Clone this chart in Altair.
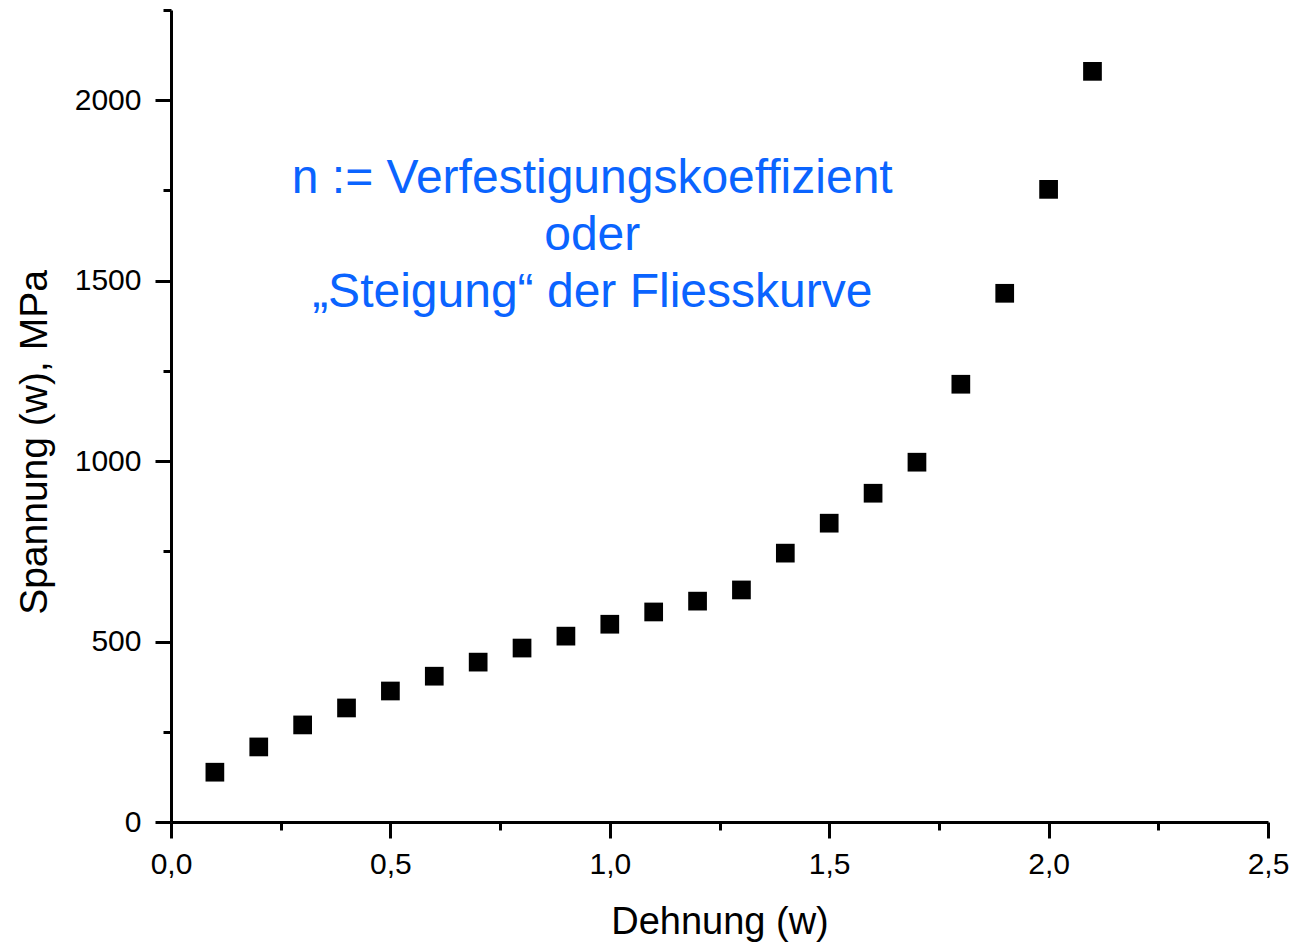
import altair as alt
import pandas as pd

# Fliesskurve: Dehnung vs. Spannung
dehnung = [0.1, 0.2, 0.3, 0.4, 0.5, 0.6, 0.7, 0.8, 0.9, 1.0, 1.1,
           1.2, 1.3, 1.4, 1.5, 1.6, 1.7, 1.8, 1.9, 2.0, 2.1]
spannung = [138, 208, 269, 316, 363, 404, 443, 482, 515, 548, 582,
            612, 643, 745, 828, 911, 997, 1213, 1465, 1753, 2080]

x_major = [0.0, 0.5, 1.0, 1.5, 2.0, 2.5]
x_minor = [0.25, 0.75, 1.25, 1.75, 2.25]
y_major = [0, 500, 1000, 1500, 2000]
y_minor = [250, 750, 1250, 1750, 2250]

note = ["n := Verfestigungskoeffizient", "oder", "\u201eSteigung\u201c der Fliesskurve"]

df = pd.DataFrame({"Dehnung": dehnung, "Spannung": spannung})

FONT = "Liberation Sans"
xs = alt.Scale(domain=[0, 2.5], nice=False, zero=False)
ys = alt.Scale(domain=[0, 2250], nice=False)

points = alt.Chart(df).mark_point(
    shape="square", filled=True, color="black", opacity=1, size=350
).encode(
    x=alt.X("Dehnung:Q", scale=xs, axis=alt.Axis(
        values=x_major, title="Dehnung (w)", tickSize=16, tickWidth=3,
        domainWidth=3, domainColor="black", tickColor="black",
        labelFont=FONT, labelFontSize=30, labelColor="black", labelPadding=11,
        labelExpr="replace(format(datum.value, '.1f'), '.', ',')",
        titleFont=FONT, titleFontSize=38, titleFontWeight="normal",
        titleColor="black", titlePadding=24, grid=False, labelFlush=False)),
    y=alt.Y("Spannung:Q", scale=ys, axis=alt.Axis(
        values=y_major, title="Spannung (w), MPa", tickSize=16, tickWidth=3,
        domainWidth=3, domainColor="black", tickColor="black",
        labelFont=FONT, labelFontSize=30, labelColor="black", labelPadding=14,
        format="d", titleFont=FONT, titleFontSize=39, titleFontWeight="normal",
        titleColor="black", titlePadding=20, titleY=432, grid=False,
        labelFlush=False)),
)

# second pair of axes carrying the short minor ticks
minor = alt.Chart(df).mark_point(opacity=0).encode(
    x=alt.X("Dehnung:Q", scale=xs, axis=alt.Axis(
        orient="bottom", values=x_minor, labels=False, title=None,
        domain=False, tickSize=8, tickWidth=3, tickColor="black", grid=False)),
    y=alt.Y("Spannung:Q", scale=ys, axis=alt.Axis(
        orient="left", values=y_minor, labels=False, title=None,
        domain=False, tickSize=8, tickWidth=3, tickColor="black", grid=False)),
)

label = alt.Chart(pd.DataFrame({"t": [note]})).mark_text(
    font=FONT, fontSize=48, color="#0A64FF", align="center",
    baseline="alphabetic", lineHeight=57,
).encode(
    x=alt.XDatum(0.96, scale=xs, axis=None),
    y=alt.YDatum(1742, scale=ys, axis=None),
    text="t:N",
)

chart = alt.layer(points, minor, label).resolve_axis(
    x="independent", y="independent"
).properties(
    width=1097, height=812,
    background="white",
    autosize=alt.AutoSizeParams(type="none"),
    padding={"left": 171, "top": 10, "right": 25, "bottom": 127},
).configure_view(strokeWidth=0, stroke="transparent")

chart.save("out.html", embed_options={"renderer": "svg", "actions": False})
